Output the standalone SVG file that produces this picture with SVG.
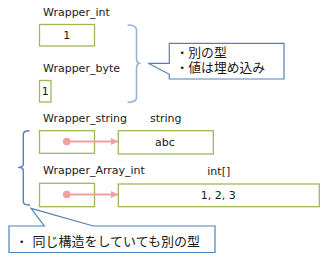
<svg xmlns="http://www.w3.org/2000/svg" width="330" height="260" viewBox="0 0 330 260">
<defs>
<style>
.lbl{font-family:"DejaVu Sans",sans-serif;font-size:11px;fill:#1a1a1a}
.val{font-family:"DejaVu Sans",sans-serif;font-size:11px;fill:#1a1a1a;text-anchor:middle}
.jp{font-family:"Liberation Sans","Noto Sans CJK JP",sans-serif;font-size:13px;fill:#1a1a1a}
.jp2{font-family:"Liberation Sans","Noto Sans CJK JP",sans-serif;font-size:12.8px;fill:#1a1a1a}
.bul{font-family:"DejaVu Sans",sans-serif;font-size:9px;fill:#1a1a1a}
.box{fill:#fff;stroke:#9BBB59;stroke-width:1.3}
.call{fill:#fff;stroke:#4F81BD;stroke-width:1.2}
.brace1{fill:none;stroke:#95B3D7;stroke-width:1.6}
.brace2{fill:none;stroke:#4F81BD;stroke-width:1.4}
.ref{stroke:#F0A0A0;stroke-width:2.2;fill:none}
.dot{fill:#F0A0A0}
</style>
<marker id="ah" viewBox="0 0 10 10" refX="10" refY="5" markerWidth="3.4" markerHeight="3.4" orient="auto" markerUnits="strokeWidth">
<path d="M0,0 L10,5 L0,10 z" fill="#F0A0A0"/>
</marker>
</defs>
<rect width="330" height="260" fill="#fff"/>

<g id="wrapper_int">
<text class="lbl" x="43" y="16">Wrapper_int</text>
<rect class="box" x="39.5" y="24.5" width="55" height="21.5"/>
<text class="val" x="66.7" y="39">1</text>
</g>

<g id="wrapper_byte">
<text class="lbl" x="43" y="72">Wrapper_byte</text>
<rect class="box" x="39.5" y="80.5" width="11.5" height="21.5"/>
<text class="val" x="45.2" y="94.5">1</text>
</g>

<g id="wrapper_string">
<text class="lbl" x="43" y="121.7">Wrapper_string</text>
<rect class="box" x="39.5" y="130.7" width="55" height="22.6"/>
</g>

<g id="string">
<text class="lbl" x="150" y="121.7">string</text>
<rect class="box" x="118.3" y="130.7" width="95" height="23.3"/>
<text class="val" x="165" y="146">abc</text>
</g>

<g id="wrapper_array_int">
<text class="lbl" x="43" y="174">Wrapper_Array_int</text>
<rect class="box" x="39.5" y="183.3" width="55" height="23.4"/>
</g>

<g id="int_array">
<text class="lbl" x="207.3" y="175">int[]</text>
<rect class="box" x="118.3" y="184" width="201" height="22.7"/>
<text class="val" x="218.3" y="199">1, 2, 3</text>
</g>

<g id="note1">
<path class="brace1" d="M127.5,25 Q136.5,25 136.5,30 L136.5,58.5 Q136.5,63.3 140.5,63.3 Q136.5,63.3 136.5,68 L136.5,97.5 Q136.5,102.3 127.5,102.3"/>
<path class="call" d="M169.3,43.3 L284,43.3 L284,79 L169.3,79 L169.3,74.3 L148.3,63.3 L169.3,63.3 Z"/>
<text class="bul" x="179.5" y="56">•</text>
<text class="jp2" x="188.3" y="57.3">別の型</text>
<text class="bul" x="179.5" y="70.5">•</text>
<text class="jp2" x="188.3" y="72">値は埋め込み</text>
</g>

<g id="note2">
<path class="brace2" d="M29.5,130.7 Q23.3,130.7 23.3,134 L23.3,164 Q23.3,167.3 18.3,167.3 Q23.3,167.3 23.3,170.5 L23.3,202 Q23.3,205 30,205"/>
<path class="call" d="M9,226 L44.3,226 L31,208.3 L93.3,226 L215,226 L215,252.5 L9,252.5 Z"/>
<text class="bul" x="19" y="244.5">•</text>
<text class="jp" x="32.5" y="246">同じ構造をしていても別の型</text>
</g>

<g id="connectors">
<circle class="dot" cx="66.7" cy="141.5" r="3.8"/>
<line class="ref" x1="66.7" y1="141.5" x2="118" y2="141.5" marker-end="url(#ah)"/>
<circle class="dot" cx="66.7" cy="194.5" r="3.8"/>
<line class="ref" x1="66.7" y1="194.5" x2="118" y2="194.5" marker-end="url(#ah)"/>
</g>
</svg>
